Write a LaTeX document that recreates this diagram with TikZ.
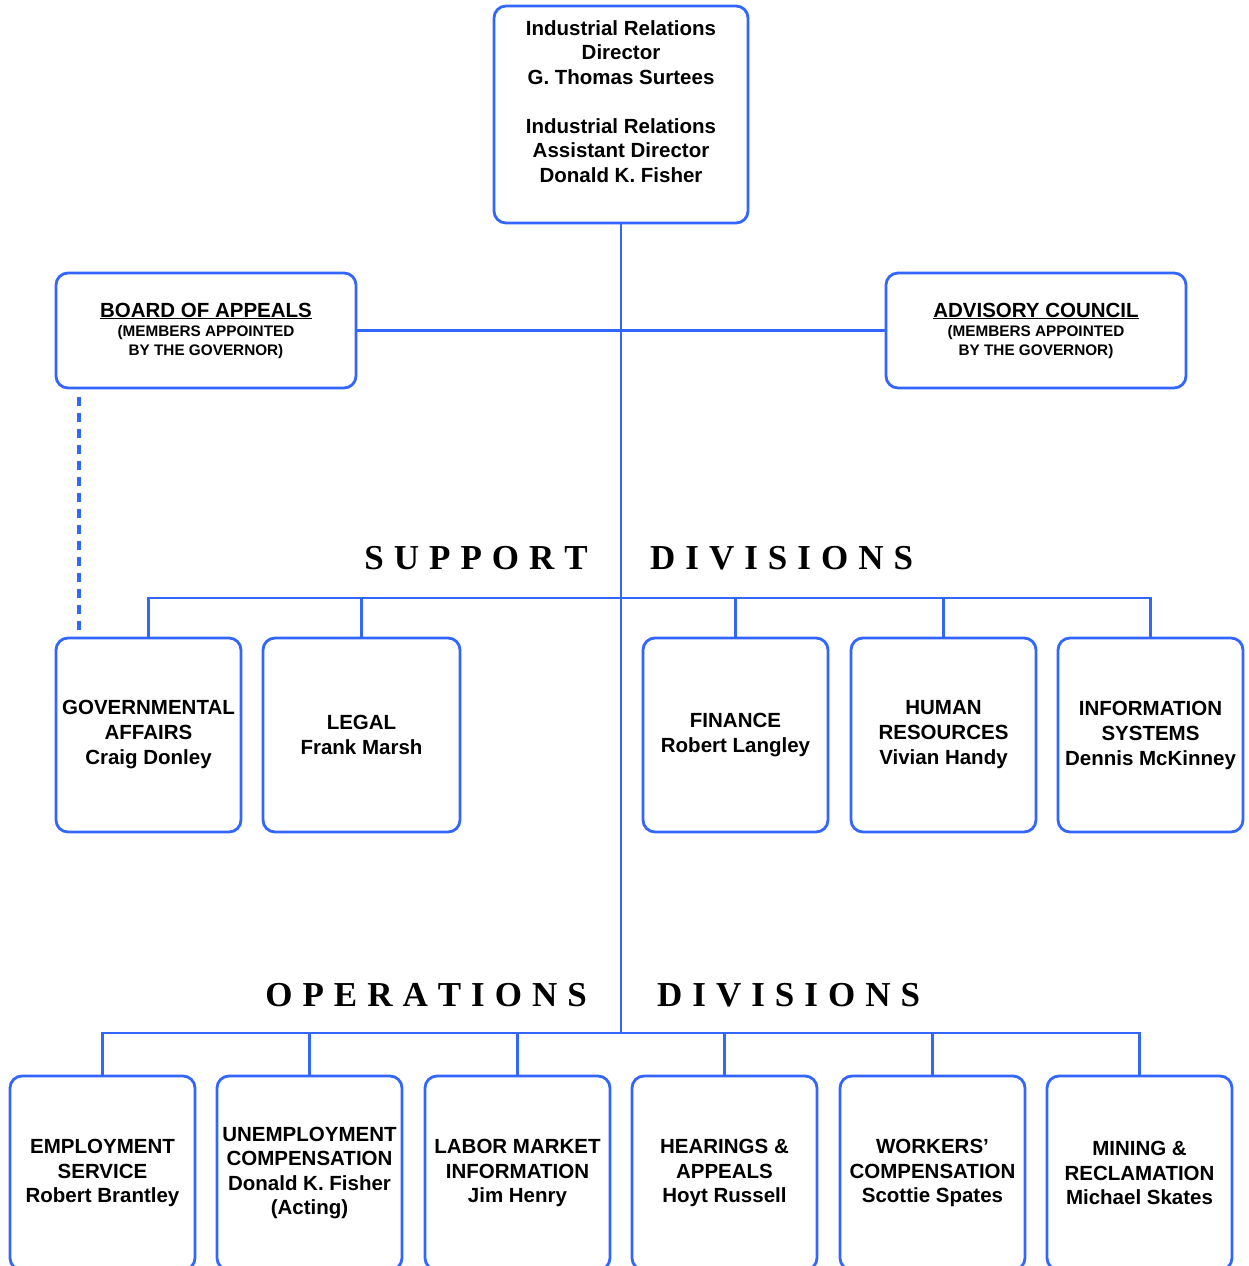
\documentclass[tikz,border=0pt]{standalone}
\usepackage{fontspec}
\setmainfont{Liberation Sans}
\newfontfamily\headfont{Liberation Serif}
\usetikzlibrary{calc}
\definecolor{orgblue}{RGB}{51,102,255}
\makeatletter
\newcommand\spreadword[1]{\@tfor\ltr:=#1\do{\ltr\hspace{10pt}}\unskip}
\makeatother

\begin{document}
\begin{tikzpicture}[x=1pt, y=-1pt,
  link/.style={draw=orgblue, line width=2.8pt},
  box/.style={draw=orgblue, line width=2.8pt, rounded corners=12pt, align=center,
    inner sep=0pt, font=\bfseries\fontsize{20.5}{24.5}\selectfont},
  divbox/.style={box, minimum width=185pt, minimum height=194pt},
  heading/.style={inner sep=0pt, font=\headfont\bfseries\fontsize{35}{40}\selectfont}]
  \useasboundingbox (0,0) rectangle (1248,1266);
  % top
  \node[box, minimum width=254pt, minimum height=217pt] (director) at (621,114.5) {};
  \node[align=center, inner sep=0pt, font=\bfseries\fontsize{20.5}{24.5}\selectfont]
    (directortext) at (621,101.5)
    {Industrial Relations\\Director\\G. Thomas Surtees\\[24.5pt]Industrial Relations\\
     Assistant Director\\Donald K. Fisher};
  \node[box, minimum width=300pt, minimum height=115pt,
    font=\bfseries\fontsize{15.3}{19}\selectfont] (board) at (206,330.5)
    {{\fontsize{20.5}{19}\selectfont\underline{BOARD OF APPEALS}}\\
     (MEMBERS APPOINTED\\BY THE GOVERNOR)};
  \node[box, minimum width=300pt, minimum height=115pt,
    font=\bfseries\fontsize{15.3}{19}\selectfont] (advisory) at (1036,330.5)
    {{\fontsize{20.5}{19}\selectfont\underline{ADVISORY COUNCIL}}\\
     (MEMBERS APPOINTED\\BY THE GOVERNOR)};
  % support divisions
  \node[heading, anchor=base east] (supleft) at (588,569) {\spreadword{SUPPORT}};
  \node[heading, anchor=base west] (supright) at (650,569) {\spreadword{DIVISIONS}};
  \node[divbox, font=\bfseries\fontsize{20.5}{25}\selectfont] (gov) at (148.5,735)
    {GOVERNMENTAL\\AFFAIRS\\Craig Donley};
  \node[divbox, minimum width=197pt, font=\bfseries\fontsize{20.5}{25}\selectfont] (legal)
    at (361.5,735) {LEGAL\\Frank Marsh};
  \node[divbox, font=\bfseries\fontsize{20.5}{25}\selectfont] (finance) at (735.5,735)
    {FINANCE\\Robert Langley};
  \node[divbox, font=\bfseries\fontsize{20.5}{25}\selectfont] (hr) at (943.5,735)
    {HUMAN\\RESOURCES\\Vivian Handy};
  \node[divbox, font=\bfseries\fontsize{20.5}{25}\selectfont] (info) at (1150.5,735)
    {INFORMATION\\SYSTEMS\\Dennis McKinney};
  % operations divisions
  \node[heading, anchor=base east] (opleft) at (587,1006) {\spreadword{OPERATIONS}};
  \node[heading, anchor=base west] (opright) at (657,1006) {\spreadword{DIVISIONS}};
  \node[divbox] (emp) at (102.5,1173) {EMPLOYMENT\\SERVICE\\Robert Brantley};
  \node[divbox] (unemp) at (309.5,1173) {UNEMPLOYMENT\\COMPENSATION\\Donald K. Fisher\\(Acting)};
  \node[divbox] (labor) at (517.5,1173) {LABOR MARKET\\INFORMATION\\Jim Henry};
  \node[divbox] (hearings) at (724.5,1173) {HEARINGS \&\\APPEALS\\Hoyt Russell};
  \node[divbox] (workers) at (932.5,1173) {WORKERS'\\COMPENSATION\\Scottie Spates};
  \node[divbox] (mining) at (1139.5,1173) {MINING \&\\RECLAMATION\\Michael Skates};
  % connectors
  \coordinate (supbus) at (621,598);
  \coordinate (opbus) at (621,1033);
  \coordinate (dashx) at (79,0);
  \draw[link] (director.south) -- (opbus);
  \draw[link] (board.east) -- (advisory.west);
  \draw[link] (gov.north) |- (supbus) -| (info.north);
  \foreach \n in {legal,finance,hr}
    \draw[link] (\n.north) -- (\n.north |- supbus);
  \draw[link] (emp.north) |- (opbus) -| (mining.north);
  \foreach \n in {unemp,labor,hearings,workers}
    \draw[link] (\n.north) -- (\n.north |- opbus);
  \draw[link, line width=3.2pt, dash pattern=on 9pt off 7pt, shorten <=8pt, shorten >=7pt]
    (board.south -| dashx) -- (gov.north -| dashx);
\end{tikzpicture}
\end{document}
